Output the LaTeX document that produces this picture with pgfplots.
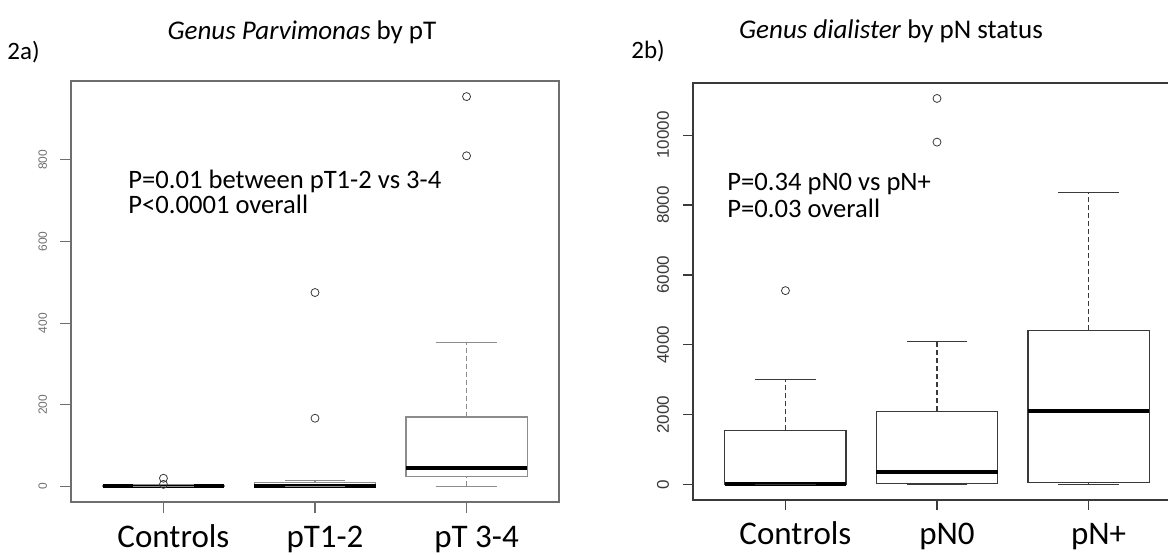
\documentclass[border=0pt]{standalone}
\usepackage{pgfplots}
\pgfplotsset{compat=1.18}
\usepackage{fontspec}
\setmainfont{Carlito}
\newfontfamily\arialfont{Liberation Sans}
\definecolor{lgray}{HTML}{8C8C8C}
\definecolor{fgray}{HTML}{6E6E6E}
\definecolor{dgray}{HTML}{3A3A3A}

% #1 centre, #2 box left, #3 box right, #4 lower whisker, #5 Q1, #6 median, #7 Q3, #8 upper whisker, #9 colour
\newcommand{\rbox}[9]{%
  \addplot[#9, line width=0.6pt, dash pattern=on 2.5pt off 1.5pt] coordinates {(#1,#4) (#1,#5)};
  \addplot[#9, line width=0.6pt, dash pattern=on 2.5pt off 1.5pt] coordinates {(#1,#7) (#1,#8)};
  \addplot[only marks, mark=-, mark size=15.15pt, mark options={#9, line width=0.6pt}] coordinates {(#1,#4) (#1,#8)};
  \addplot[#9, line width=0.6pt] coordinates {(#2,#5) (#3,#5) (#3,#7) (#2,#7) (#2,#5)};
  \addplot[black, line width=2pt] coordinates {(#2,#6) (#3,#6)};
}

\pgfplotsset{
  rax/.style={
    scale only axis, width=244pt,
    xmin=0.39, xmax=3.61,
    xtick={1,2,3},
    tick align=outside, xtick pos=left, ytick pos=left,
    major tick length=5.5pt,
    scaled y ticks=false,
    /pgf/number format/.cd, fixed, 1000 sep={}, assume math mode=true, /pgfplots/.cd,
    xticklabel style={font=\fontsize{16.5}{18}\selectfont, anchor=base, yshift=-17pt, xshift=5pt, text=black},
    clip=false,
  },
  outl/.style={only marks, mark=o, mark size=2pt, mark options={dgray, line width=0.4pt}},
}

\begin{document}
\begin{tikzpicture}
% ---------------- 2a ----------------
\begin{axis}[rax,
  at={(35.5pt,26pt)}, anchor=south west,
  height=210.5pt,
  ymin=-38.2, ymax=993.2,
  ytick={0,200,400,600,800},
  xticklabels={Controls,pT1-2,pT 3-4},
  axis line style={fgray, line width=0.6pt},
  tick style={fgray, line width=0.6pt},
  yticklabel style={font=\arialfont\fontsize{6}{7}\selectfont, text=fgray, rotate=90, anchor=south, yshift=3pt},
]
\rbox{1}{0.6}{1.4}{0}{0}{0.5}{2}{4}{lgray}
\rbox{2}{1.6}{2.4}{0}{0}{1}{10}{15}{lgray}
\rbox{3}{2.6}{3.4}{0}{24}{44}{170}{353}{lgray}
\addplot[outl] coordinates {(1,20) (1,5)};
\addplot[outl] coordinates {(2,167) (2,475)};
\addplot[outl] coordinates {(3,810) (3,955)};
\end{axis}
% ---------------- 2b ----------------
\begin{axis}[rax,
  at={(346.5pt,27pt)}, anchor=south west,
  height=208.5pt,
  ymin=-442, ymax=11492,
  ytick={0,2000,4000,6000,8000,10000},
  xticklabels={Controls,pN0,pN+},
  major tick length=5pt,
  axis line style={dgray, line width=0.6pt},
  tick style={dgray, line width=0.6pt},
  yticklabel style={font=\arialfont\fontsize{8.5}{10}\selectfont, text=dgray, rotate=90, anchor=south, yshift=3.5pt},
]
\rbox{1}{0.6}{1.4}{0}{0}{30}{1550}{3000}{dgray}
\rbox{2}{1.6}{2.4}{0}{40}{350}{2100}{4100}{dgray}
\rbox{3}{2.6}{3.4}{0}{50}{2100}{4420}{8350}{dgray}
\addplot[outl] coordinates {(1,5550)};
\addplot[outl] coordinates {(2,9800) (2,11050)};
\end{axis}
% ---------------- texts ----------------
\node[font=\fontsize{13.5}{15}\selectfont, anchor=base] at (151pt,257.5pt) {\textit{Genus Parvimonas} by pT};
\node[font=\fontsize{12.5}{14}\selectfont, anchor=base west, inner sep=0pt] at (3.5pt,247.5pt) {2a)};
\node[font=\fontsize{13.5}{15}\selectfont, anchor=base] at (445.5pt,258pt) {\textit{Genus dialister} by pN status};
\node[font=\fontsize{12.5}{14}\selectfont, anchor=base west, inner sep=0pt] at (315.5pt,248pt) {2b)};
\node[font=\fontsize{13.3}{15}\selectfont, anchor=base west, inner sep=0pt] at (64pt,183pt) {P=0.01 between pT1-2 vs 3-4};
\node[font=\fontsize{13.3}{15}\selectfont, anchor=base west, inner sep=0pt] at (64pt,170.5pt) {P<0.0001 overall};
\node[font=\fontsize{13.3}{15}\selectfont, anchor=base west, inner sep=0pt] at (363.5pt,182pt) {P=0.34 pN0 vs pN+};
\node[font=\fontsize{13.3}{15}\selectfont, anchor=base west, inner sep=0pt] at (363.5pt,168.5pt) {P=0.03 overall};
\pgfresetboundingbox
\useasboundingbox (0,0) rectangle (584pt,277pt);
\end{tikzpicture}
\end{document}
